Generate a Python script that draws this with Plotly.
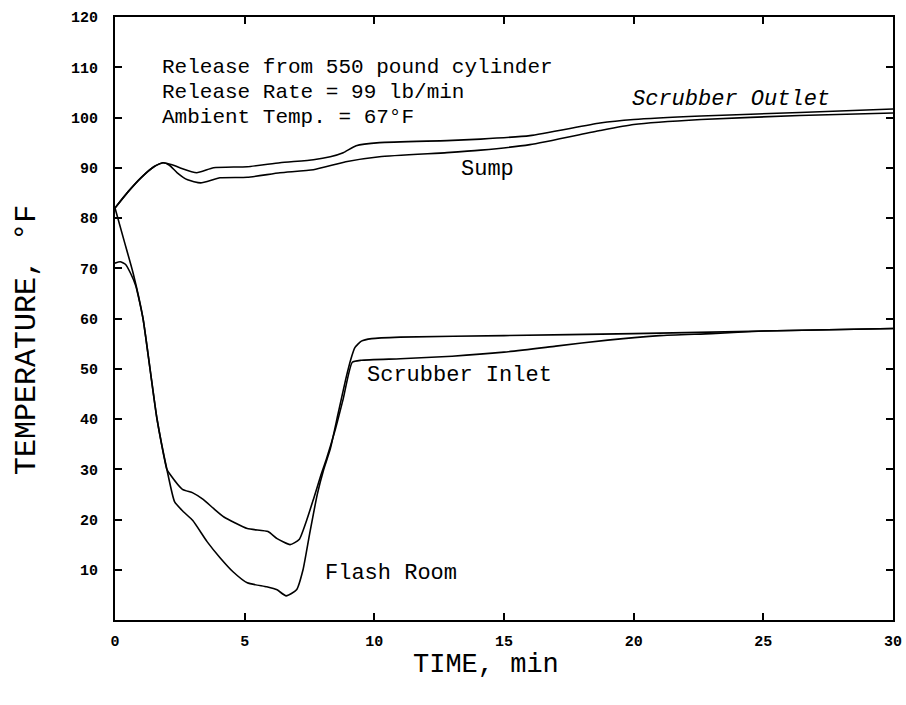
import plotly.graph_objects as go

# ---- data ----
outlet_t = [0, 0.5, 1.0, 1.5, 1.85, 2.2, 2.5, 3.15, 3.8, 5.1, 6.36, 7.65, 8.3, 8.8, 9.3, 10.2, 12.8, 14.1, 16.0, 18.7, 20.0, 22.6, 26.4, 30.0]
outlet_T = [82, 85.2, 88.0, 90.2, 91.0, 90.6, 90.0, 89.0, 90.0, 90.2, 91.0, 91.6, 92.2, 93.0, 94.4, 95.0, 95.4, 95.7, 96.4, 98.9, 99.6, 100.3, 101.0, 101.7]

sump_t = [0, 0.5, 1.0, 1.5, 1.85, 2.1, 2.4, 2.8, 3.3, 4.05, 5.1, 6.36, 7.65, 8.9, 10.2, 12.8, 14.1, 16.0, 18.7, 20.0, 22.6, 26.4, 30.0]
sump_T = [82, 85.2, 88.0, 90.2, 91.0, 90.5, 89.0, 87.6, 87.0, 88.0, 88.1, 89.0, 89.6, 91.2, 92.2, 93.0, 93.5, 94.6, 97.4, 98.6, 99.6, 100.4, 100.9]

flash_t = [0, 0.35, 0.7, 1.08, 1.35, 1.62, 2.0, 2.3, 2.65, 3.0, 3.55, 4.05, 4.55, 5.1, 5.85, 6.25, 6.6, 7.0, 7.25, 7.5, 7.8, 8.05, 8.3, 8.6, 8.9, 9.1, 9.25, 9.5, 9.9, 11.0, 15.0, 20.0, 25.0, 30.0]
flash_T = [82, 75.5, 69, 60, 50, 40, 30, 23.5, 21.5, 19.8, 15.6, 12.4, 9.6, 7.4, 6.6, 6.0, 4.8, 6.0, 10.0, 17.0, 25.0, 30.0, 34.0, 41.0, 48.0, 52.0, 54.2, 55.5, 56.0, 56.3, 56.6, 57.0, 57.5, 58.0]

inlet_t = [0, 0.2, 0.4, 0.6, 0.8, 1.08, 1.35, 1.62, 2.0, 2.12, 2.6, 3.0, 3.4, 3.8, 4.2, 5.1, 5.9, 6.25, 6.75, 7.1, 7.4, 7.65, 7.95, 8.15, 8.5, 8.8, 9.15, 9.5, 11.0, 13.0, 15.0, 17.0, 19.0, 21.0, 23.0, 25.0, 30.0]
inlet_T = [71, 71.3, 70.8, 69, 66.5, 60, 50, 40, 30, 29, 26, 25.3, 24, 22.2, 20.5, 18.2, 17.6, 16.2, 15.0, 16.0, 20.0, 24.0, 29.0, 32.0, 38.0, 44.0, 51.3, 51.7, 52.0, 52.5, 53.3, 54.5, 55.7, 56.6, 57.0, 57.5, 58.0]

x_ticks = [0, 5, 10, 15, 20, 25, 30]
y_ticks = [10, 20, 30, 40, 50, 60, 70, 80, 90, 100, 110, 120]

note_lines = ["Release from 550 pound cylinder",
              "Release Rate = 99 lb/min",
              "Ambient Temp. = 67°F"]

MONO = "Liberation Mono"

fig = go.Figure()
line_style = dict(color="black", width=1.6, shape="spline", smoothing=0.5)
for name, tx, ty in [("Scrubber Outlet", outlet_t, outlet_T),
                     ("Sump", sump_t, sump_T),
                     ("Flash Room", flash_t, flash_T),
                     ("Scrubber Inlet", inlet_t, inlet_T)]:
    fig.add_trace(go.Scatter(x=tx, y=ty, mode="lines", name=name,
                             line=line_style, showlegend=False,
                             hoverinfo="skip"))

annotations = []
for i, txt in enumerate(note_lines):
    annotations.append(dict(x=1.72, y=110 - 5 * i, xref="x", yref="y",
                            text=txt, showarrow=False, xanchor="left",
                            yanchor="middle",
                            font=dict(family=MONO, size=21, color="black")))

labels = [("<i>Scrubber Outlet</i>", 23.75, 103.6),
          ("Sump", 14.35, 89.6),
          ("Scrubber Inlet", 13.3, 48.6),
          ("Flash Room", 10.65, 9.3)]
for txt, lx, ly in labels:
    annotations.append(dict(x=lx, y=ly, xref="x", yref="y", text=txt,
                            showarrow=False, xanchor="center", yanchor="middle",
                            font=dict(family=MONO, size=22, color="black")))

annotations.append(dict(x=-0.114, y=0.465, xref="paper", yref="paper",
                        text="TEMPERATURE, °F", textangle=-90, showarrow=False,
                        xanchor="center", yanchor="middle",
                        font=dict(family=MONO, size=30, color="black")))
annotations.append(dict(x=0.477, y=-0.074, xref="paper", yref="paper",
                        text="TIME, min", showarrow=False,
                        xanchor="center", yanchor="middle",
                        font=dict(family=MONO, size=27, color="black")))

axis_common = dict(showline=True, linecolor="black", linewidth=2, mirror="ticks",
                   ticks="inside", ticklen=7, tickwidth=1.5, tickcolor="black",
                   showgrid=False, zeroline=False,
                   tickfont=dict(family=MONO, size=15, color="black", weight="bold"))

fig.update_layout(
    width=906, height=705,
    margin=dict(l=115, r=13, t=17, b=85, autoexpand=False),
    paper_bgcolor="white", plot_bgcolor="white",
    xaxis=dict(range=[0, 30], tickvals=x_ticks, ticklabelstandoff=6, **axis_common),
    yaxis=dict(range=[0, 120], tickvals=y_ticks, ticklabelstandoff=12, **axis_common),
    annotations=annotations,
)

fig.write_html("out.html", config={"displayModeBar": False},
               post_script="document.body.style.margin='0';document.body.style.overflow='hidden';")
